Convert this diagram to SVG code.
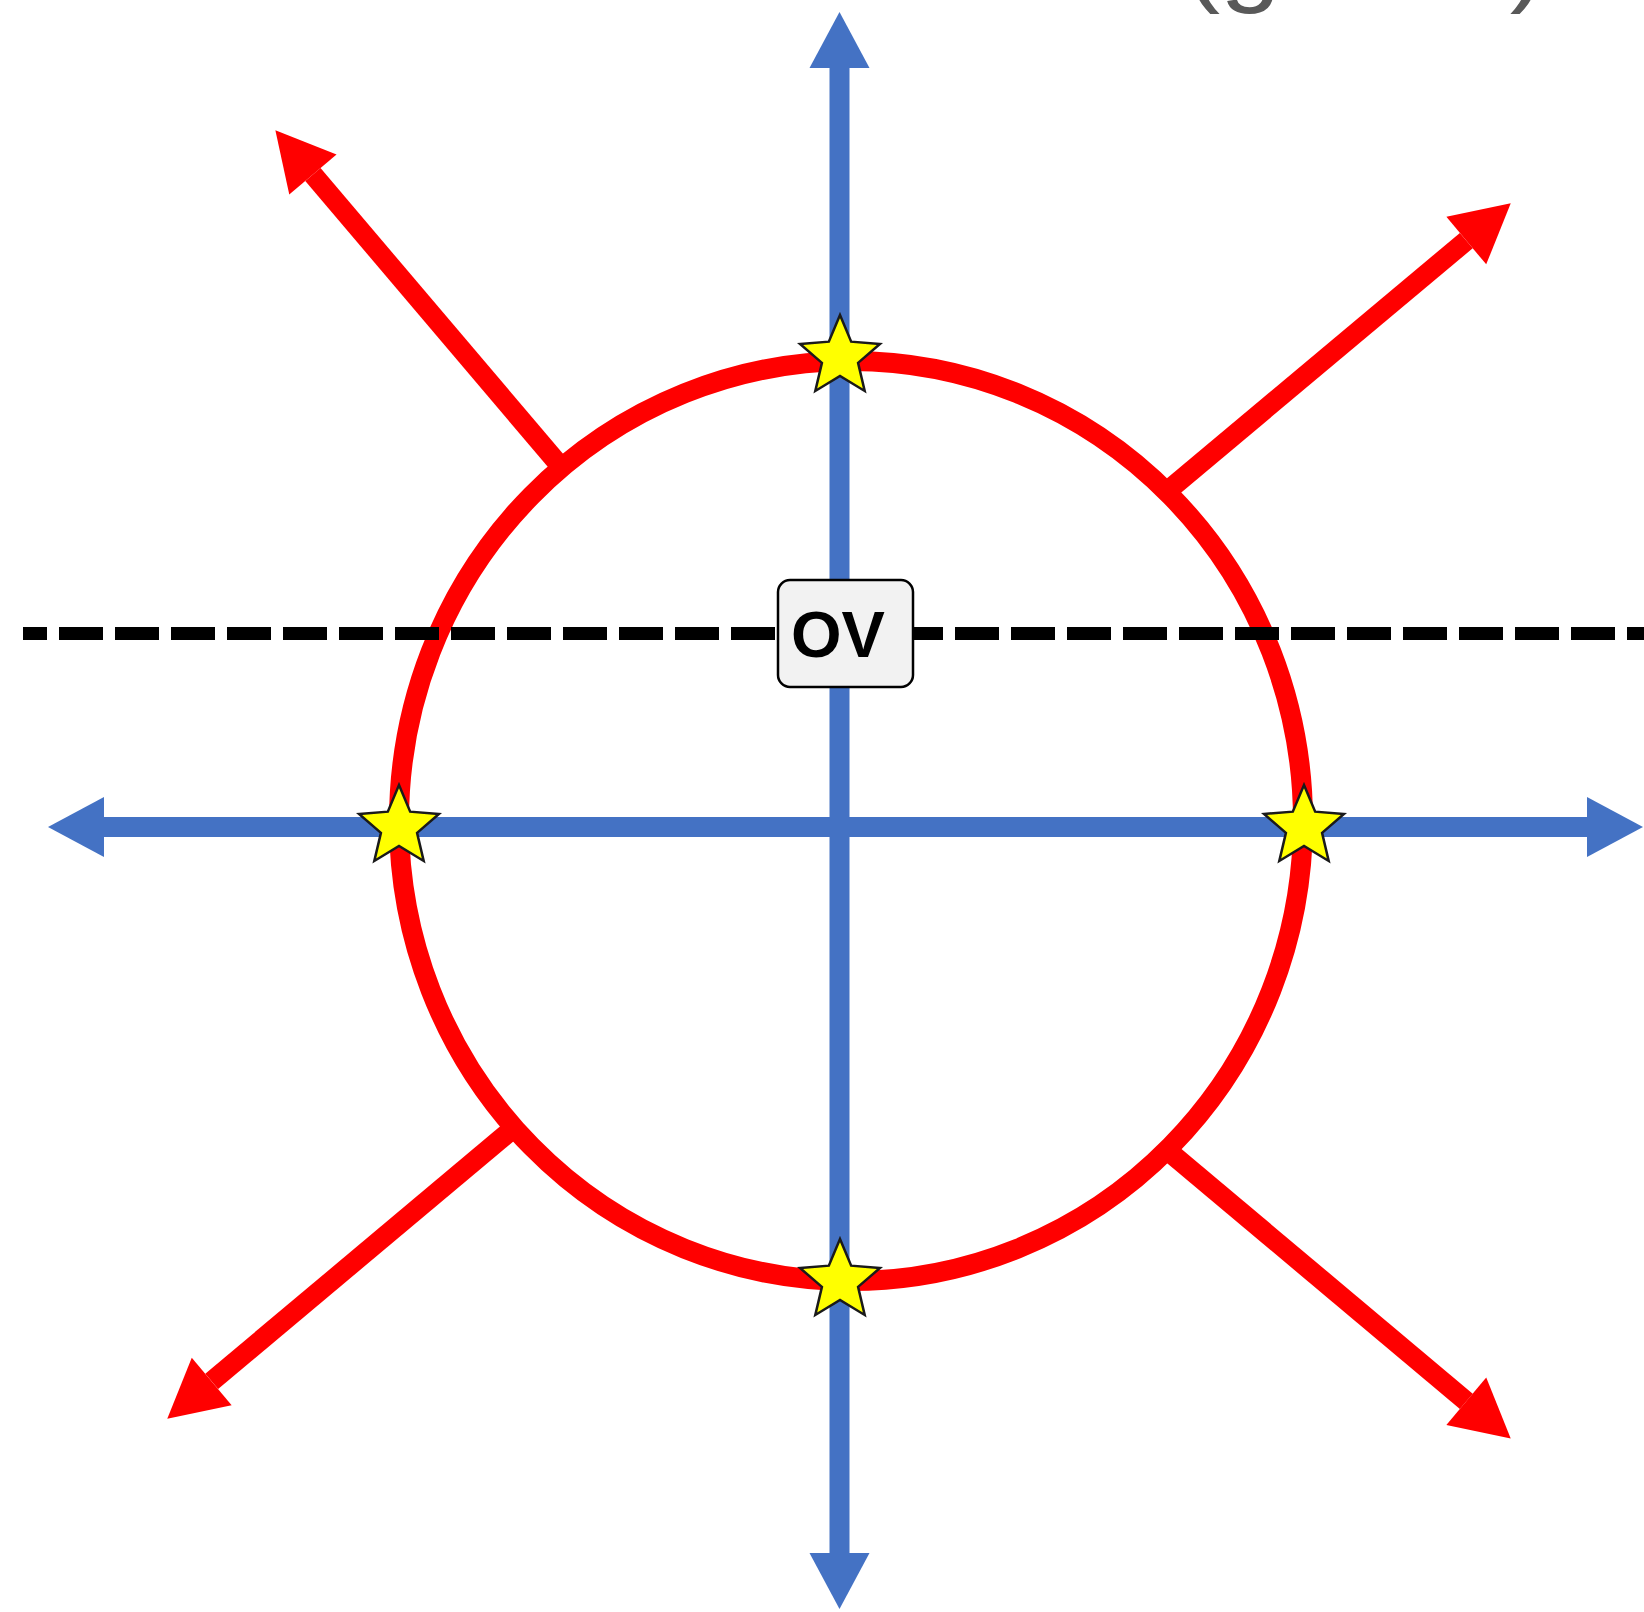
<svg xmlns="http://www.w3.org/2000/svg" width="1644" height="1612" viewBox="0 0 1644 1612">
<style>
.blue{stroke:#4472c4;stroke-width:20;fill:none}
.red{stroke:#ff0000;stroke-width:20;fill:none}
.star{fill:#ffff00;stroke:#1a1a1a;stroke-width:2.5;stroke-linejoin:miter}
.lbl{font-family:"Liberation Sans",Arial,sans-serif;font-weight:bold;font-size:65px;fill:#000}
.ttl{font-family:"Liberation Sans",Arial,sans-serif;font-size:100px;fill:#595959}
</style>
<defs>
<marker id="hb" markerUnits="userSpaceOnUse" viewBox="0 -30 56 60" markerWidth="56" markerHeight="60" refX="0" refY="0" orient="auto-start-reverse" overflow="visible">
<path d="M0,-30 L56,0 L0,30 Z" fill="#4472c4"/>
</marker>
<marker id="hr" markerUnits="userSpaceOnUse" viewBox="0 -31 58 62" markerWidth="58" markerHeight="62" refX="0" refY="0" orient="auto" overflow="visible">
<path d="M0,-31 L58,0 L0,31 Z" fill="#ff0000"/>
</marker>
<path id="starShape" d="M0,-42 L11.17,-15.37 L39.94,-12.98 L18.07,5.87 L24.69,33.98 L0,19 L-24.69,33.98 L-18.07,5.87 L-39.94,-12.98 L-11.17,-15.37 Z"/>
</defs>
<rect width="1644" height="1612" fill="#fff"/>
<text class="ttl" x="1184" y="-7" textLength="362" lengthAdjust="spacingAndGlyphs">(global)</text>
<g id="connectors">
<line class="blue" x1="839.5" y1="68" x2="839.5" y2="1553" marker-start="url(#hb)" marker-end="url(#hb)"/>
<line class="blue" x1="104" y1="827" x2="1587" y2="827" marker-start="url(#hb)" marker-end="url(#hb)"/>
</g>
<g id="circle">
<ellipse cx="851" cy="821" rx="452" ry="460" fill="none" stroke="#ff0000" stroke-width="20"/>
</g>
<g id="red-arrows">
<line class="red" x1="556" y1="461" x2="312.9" y2="174.5" marker-end="url(#hr)"/>
<line class="red" x1="1171" y1="488" x2="1466.3" y2="240.6" marker-end="url(#hr)"/>
<line class="red" x1="509" y1="1132" x2="211.7" y2="1381.4" marker-end="url(#hr)"/>
<line class="red" x1="1167" y1="1150" x2="1466.3" y2="1401.3" marker-end="url(#hr)"/>
</g>
<g id="dashed-line">
<line x1="23" y1="633.5" x2="1644" y2="633.5" stroke="#000" stroke-width="13" stroke-dasharray="44 12" stroke-dashoffset="20"/>
</g>
<g id="ov">
<rect x="778" y="580" width="135" height="107" rx="12" fill="#f2f2f2" stroke="#000" stroke-width="2.5"/>
<text class="lbl" x="838" y="657" text-anchor="middle">OV</text>
</g>
<g id="stars">
<use href="#starShape" class="star" x="840" y="357"/>
<use href="#starShape" class="star" x="399" y="827"/>
<use href="#starShape" class="star" x="1304" y="827"/>
<use href="#starShape" class="star" x="840" y="1281"/>
</g>
</svg>
